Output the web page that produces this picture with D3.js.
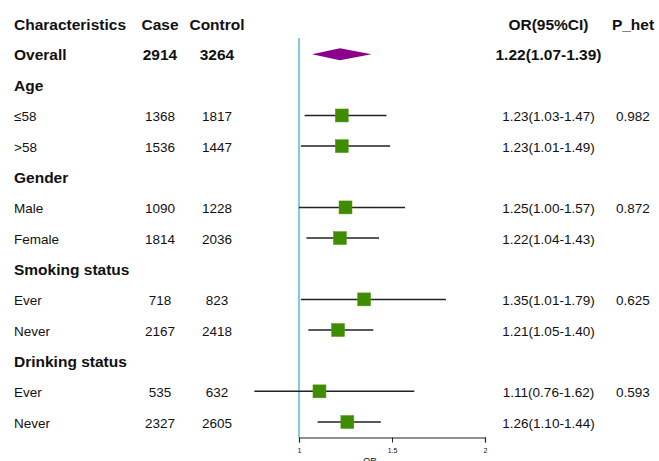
<!DOCTYPE html>
<html><head><meta charset="utf-8">
<script src="https://cdn.jsdelivr.net/npm/d3@7"></script>
<style>body{margin:0;background:#fff}svg{display:block}text{font-family:"Liberation Sans",Arial,sans-serif;fill:#111}</style>
</head><body><svg id="c" width="659" height="461"></svg>
<script>
const headers = ["Characteristics","Case","Control","OR(95%CI)","P_het"];
const rowLabels = ["Overall","Age","≤58",">58","Gender","Male","Female","Smoking status","Ever","Never","Drinking status","Ever","Never"];
const rowTypes  = ["overall","group","data","data","group","data","data","group","data","data","group","data","data"];
const cases    = [2914,null,1368,1536,null,1090,1814,null,718,2167,null,535,2327];
const controls = [3264,null,1817,1447,null,1228,2036,null,823,2418,null,632,2605];
const ors      = [1.22,null,1.23,1.23,null,1.25,1.22,null,1.35,1.21,null,1.11,1.26];
const lowers   = [1.07,null,1.03,1.01,null,1.00,1.04,null,1.01,1.05,null,0.76,1.10];
const uppers   = [1.39,null,1.47,1.49,null,1.57,1.43,null,1.79,1.40,null,1.62,1.44];
const pHet     = ["",null,"0.982","",null,"0.872","",null,"0.625","",null,"0.593",""];
const ticks    = [1,1.5,2];

const svg = d3.select("#c");
const x = d3.scaleLinear().domain([1,2]).range([299,485]);
const y = d3.scaleLinear().domain([0,13]).range([29.5,428]); // baselines, 0 = header
const colX = {label:14, cse:160, ctl:217, or:548.5, p:633};

// header
const hdr = [[headers[0],colX.label,"start"],[headers[1],colX.cse,"middle"],[headers[2],colX.ctl,"middle"],[headers[3],colX.or,"middle"],[headers[4],colX.p,"middle"]];
svg.selectAll("text.h").data(hdr).join("text").attr("class","h")
  .attr("x",d=>d[1]).attr("y",y(0)).attr("text-anchor",d=>d[2])
  .style("font-size","15.5px").style("font-weight","bold").text(d=>d[0]);

// reference line
svg.append("line").attr("x1",x(1)).attr("x2",x(1)).attr("y1",38).attr("y2",437.5)
  .attr("stroke","#7ccfd6").attr("stroke-width",2);

const rows = rowLabels.map((l,i)=>({l,i:i+1,t:rowTypes[i],c:cases[i],k:controls[i],o:ors[i],lo:lowers[i],hi:uppers[i],p:pHet[i]}));
const fmt = d3.format(".2f");

rows.forEach(r=>{
  const by = y(r.i);
  const bold = r.t!=="data";
  const fs = bold ? "15.5px" : "13.5px";
  const fw = bold ? "bold" : "normal";
  const t = (txt,xx,anc)=>svg.append("text").attr("x",xx).attr("y",by).attr("text-anchor",anc)
     .style("font-size",fs).style("font-weight",fw).text(txt);
  t(r.l,colX.label,"start");
  if(r.t==="group") return;
  t(r.c,colX.cse,"middle");
  t(r.k,colX.ctl,"middle");
  t(`${fmt(r.o)}(${fmt(r.lo)}-${fmt(r.hi)})`,colX.or,"middle");
  if(r.p) t(r.p,colX.p,"middle");
  const my = by-6;
  if(r.t==="overall"){
    const pts=[[x(r.lo),my],[x(r.o),my-6],[x(r.hi),my],[x(r.o),my+6]];
    svg.append("path").attr("d","M"+pts.join("L")+"Z").attr("fill","#8b008b");
  } else {
    svg.append("line").attr("x1",x(r.lo)).attr("x2",x(r.hi)).attr("y1",my).attr("y2",my)
      .attr("stroke","#222").attr("stroke-width",1.5);
    svg.append("rect").attr("x",x(r.o)-6.5).attr("y",my-6.5).attr("width",13).attr("height",13)
      .attr("fill","#3f8c00").attr("stroke","#5a9e1e").attr("stroke-width",0.5);
  }
});

// axis
const ax = svg.append("g").attr("transform","translate(0,437.5)")
  .call(d3.axisBottom(x).tickValues(ticks).tickFormat(d3.format("")).tickSize(5).tickPadding(6));
ax.select(".domain").attr("stroke","#222").attr("stroke-width",1.2);
ax.selectAll(".tick line").attr("stroke","#222");
ax.selectAll(".tick text").style("font-size","7px").attr("fill","#222");
svg.append("text").attr("x",370).attr("y",464).attr("text-anchor","middle").style("font-size","9px").text("OR");
</script></body></html>
